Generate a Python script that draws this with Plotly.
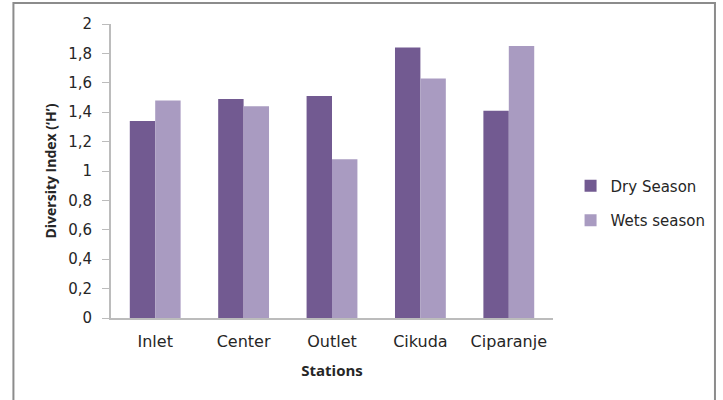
import plotly.graph_objects as go

# Shannon diversity index per station and season
stations = ["Inlet", "Center", "Outlet", "Cikuda", "Ciparanje"]
dry_season = [1.34, 1.49, 1.51, 1.84, 1.41]
wet_season = [1.48, 1.44, 1.08, 1.63, 1.85]
y_ticks = [0, 0.2, 0.4, 0.6, 0.8, 1.0, 1.2, 1.4, 1.6, 1.8, 2.0]
y_tick_text = ["0", "0,2", "0,4", "0,6", "0,8", "1", "1,2", "1,4", "1,6", "1,8", "2"]

DARK = "#725a91"
LIGHT = "#a99bc1"
BODY = "'DejaVu Sans', sans-serif"
TITLE = "'Open Sans', sans-serif"
INK = "#262626"

fig = go.Figure()
fig.add_trace(go.Bar(x=stations, y=dry_season, name="Dry Season",
                     marker=dict(color=DARK, line=dict(width=0)),
                     legendgroup="a"))
fig.add_trace(go.Bar(x=stations, y=wet_season, name="Wets season",
                     marker=dict(color=LIGHT, line=dict(width=0)),
                     legendgroup="b"))

L, R, T, B = 111, 159, 24, 82
PW = 723 - L - R
PH = 400 - T - B

fig.update_layout(
    width=723, height=400,
    margin=dict(l=L, r=R, t=T, b=B, pad=0),
    paper_bgcolor="white", plot_bgcolor="white",
    barmode="group", bargap=0.425, bargroupgap=0,
    font=dict(family=BODY, size=15, color=INK),
    showlegend=True,
    legend=dict(x=(582 - L) / PW, xanchor="left",
                y=(318 - 203) / PH, yanchor="middle",
                font=dict(family=BODY, size=15, color=INK),
                tracegroupgap=12, bgcolor="rgba(0,0,0,0)"),
    xaxis=dict(
        showline=True, linecolor="#bcbcbc", linewidth=2,
        ticks="", showgrid=False,
        tickfont=dict(family=BODY, size=16), ticklabelstandoff=8,
        title=dict(text="<b>Stations</b>",
                   font=dict(family=TITLE, size=15, color=INK), standoff=15),
    ),
    yaxis=dict(
        range=[0, 2], tickvals=y_ticks, ticktext=y_tick_text,
        showline=True, linecolor="#bcbcbc", linewidth=2,
        ticks="outside", ticklen=7, tickcolor="#bcbcbc", tickwidth=1,
        showgrid=False, zeroline=False,
        tickfont=dict(family=BODY, size=15), ticklabelstandoff=7,
        title=dict(text="<b>Diversity Index (\u2018H\u2019)</b>",
                   font=dict(family=TITLE, size=14, color=INK), standoff=8),
    ),
)

# outer chart frame
fig.add_shape(type="rect", xref="paper", yref="paper",
              x0=(11 - L) / PW, x1=(730 - L) / PW,
              y0=(318 - 405) / PH, y1=(318 - 3) / PH,
              line=dict(color="#8c8c8c", width=2), fillcolor="rgba(0,0,0,0)",
              layer="below")

fig.write_html("out.html")
